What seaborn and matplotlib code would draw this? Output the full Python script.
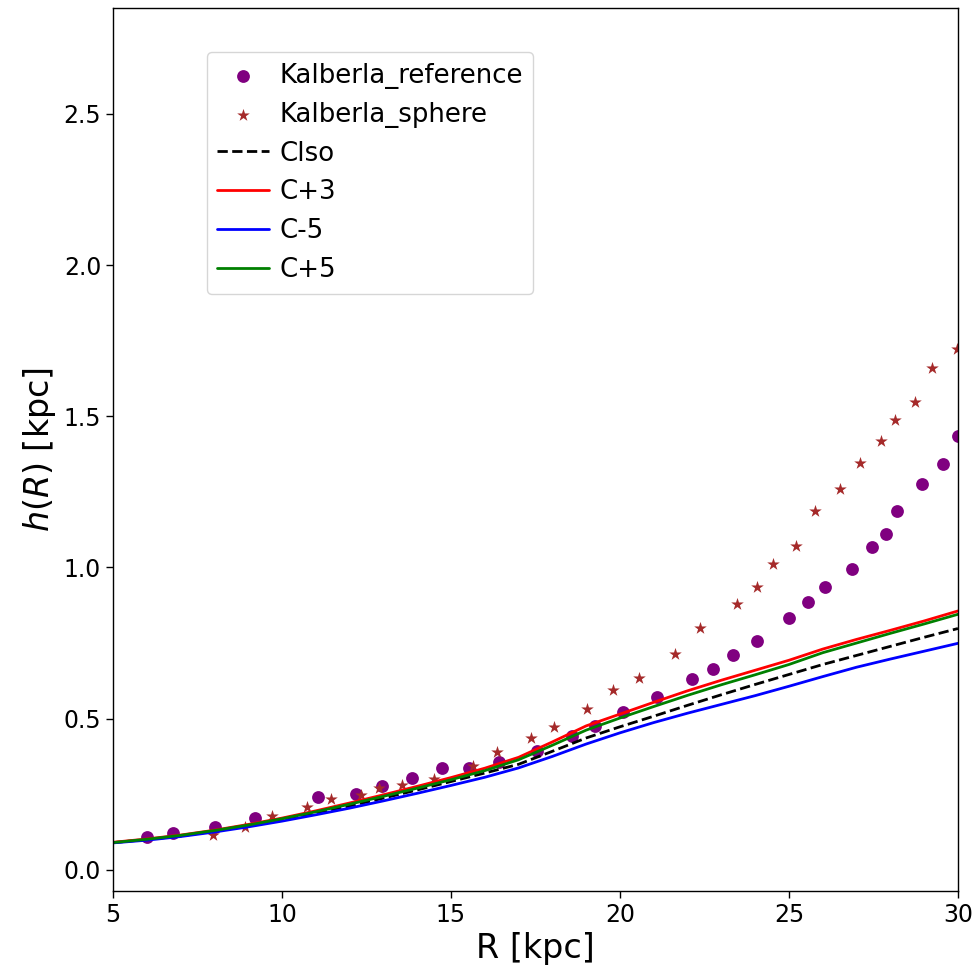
import numpy as np
import pandas as pd
import matplotlib
matplotlib.use("Agg")
import matplotlib.pyplot as plt
import seaborn as sns

# Kalberla & Dedes HI scale height: reference profile
ref_R = [6.00, 6.77, 8.02, 9.20, 11.07, 12.19, 12.96, 13.85, 14.73, 15.53,
         16.42, 17.54, 18.58, 19.26, 20.09, 21.09, 22.13, 22.74, 23.33, 24.04,
         25.00, 25.55, 26.07, 26.87, 27.46, 27.87, 28.19, 28.93, 29.57, 30.01]
ref_h = [0.110, 0.123, 0.143, 0.171, 0.240, 0.251, 0.277, 0.304, 0.337, 0.337,
         0.357, 0.394, 0.443, 0.476, 0.522, 0.571, 0.631, 0.664, 0.710, 0.757,
         0.834, 0.887, 0.935, 0.994, 1.068, 1.110, 1.187, 1.277, 1.343, 1.433]

# Kalberla scale height with spherical halo
sph_R = [7.95, 8.91, 9.71, 10.75, 11.45, 12.33, 12.86, 13.54, 14.51, 15.64,
         16.35, 17.36, 18.05, 19.02, 19.79, 20.57, 21.63, 22.37, 23.47, 24.06,
         24.52, 25.21, 25.76, 26.50, 27.09, 27.72, 28.14, 28.73, 29.24, 29.96]
sph_h = [0.116, 0.140, 0.178, 0.208, 0.235, 0.248, 0.270, 0.282, 0.301, 0.343,
         0.390, 0.435, 0.472, 0.533, 0.595, 0.636, 0.714, 0.799, 0.878, 0.936,
         1.011, 1.072, 1.188, 1.258, 1.344, 1.419, 1.488, 1.547, 1.658, 1.723]

# Model scale heights on a radial grid
R_grid = [5, 6, 7, 8, 9, 10, 11, 12, 13, 14, 15, 16, 17, 18, 19, 20,
          21, 22, 23, 24, 25, 26, 27, 28, 29, 30]
h_clso = [0.090, 0.100, 0.112, 0.128, 0.146, 0.166, 0.188, 0.211, 0.237, 0.264,
          0.292, 0.320, 0.349, 0.392, 0.436, 0.473, 0.508, 0.544, 0.579, 0.613,
          0.646, 0.679, 0.709, 0.739, 0.769, 0.798]
h_cp3 = [0.091, 0.102, 0.115, 0.131, 0.150, 0.171, 0.195, 0.221, 0.248, 0.276,
         0.305, 0.336, 0.372, 0.423, 0.476, 0.515, 0.554, 0.592, 0.627, 0.660,
         0.693, 0.730, 0.762, 0.792, 0.823, 0.856]
h_cm5 = [0.089, 0.098, 0.110, 0.125, 0.142, 0.161, 0.182, 0.204, 0.228, 0.253,
         0.279, 0.306, 0.337, 0.375, 0.416, 0.453, 0.487, 0.518, 0.547, 0.576,
         0.607, 0.639, 0.670, 0.697, 0.723, 0.749]
h_cp5 = [0.090, 0.101, 0.114, 0.130, 0.148, 0.169, 0.192, 0.217, 0.243, 0.270,
         0.298, 0.328, 0.364, 0.412, 0.462, 0.502, 0.540, 0.577, 0.612, 0.645,
         0.679, 0.718, 0.750, 0.782, 0.813, 0.845]

sns.set_style("ticks")
plt.rcParams.update({
    "font.family": ["DejaVu Sans"],
    "text.color": "black",
    "axes.labelcolor": "black",
    "xtick.color": "black",
    "ytick.color": "black",
    "axes.edgecolor": "black",
})

fig, ax = plt.subplots(figsize=(9.79, 9.76), dpi=100)
fig.subplots_adjust(left=0.1154, right=0.9785, bottom=0.0871, top=0.9918)

sns.scatterplot(x=ref_R, y=ref_h, ax=ax, color="purple", marker="o", s=85,
                linewidth=0, label="Kalberla_reference")
sns.scatterplot(x=sph_R, y=sph_h, ax=ax, color="brown", marker="*", s=90,
                linewidth=0, label="Kalberla_sphere")

sns.lineplot(x=R_grid, y=h_clso, ax=ax, color="black", linestyle="--", lw=2,
             label="Clso")
sns.lineplot(x=R_grid, y=h_cp3, ax=ax, color="red", lw=2, label="C+3")
sns.lineplot(x=R_grid, y=h_cm5, ax=ax, color="blue", lw=2, label="C-5")
sns.lineplot(x=R_grid, y=h_cp5, ax=ax, color="green", lw=2, label="C+5")

ax.set_xlim(5, 30)
ax.set_ylim(-0.07, 2.85)
ax.set_xticks([5, 10, 15, 20, 25, 30])
ax.set_yticks([0.0, 0.5, 1.0, 1.5, 2.0, 2.5])
ax.tick_params(labelsize=17, length=5, width=1, colors="black")
for sp in ax.spines.values():
    sp.set_visible(True)
    sp.set_linewidth(1)
    sp.set_color("black")

ax.set_xlabel("R [kpc]", fontsize=24, color="black")
ax.set_ylabel(r"$h(R)$ [kpc]", fontsize=24, color="black")

leg = ax.legend(loc="upper left", bbox_to_anchor=(0.111, 0.950), borderaxespad=0,
                fontsize=18.7, frameon=True, handletextpad=0.4)
for t in leg.get_texts():
    t.set_color("black")

fig.savefig("out.png", dpi=100)
